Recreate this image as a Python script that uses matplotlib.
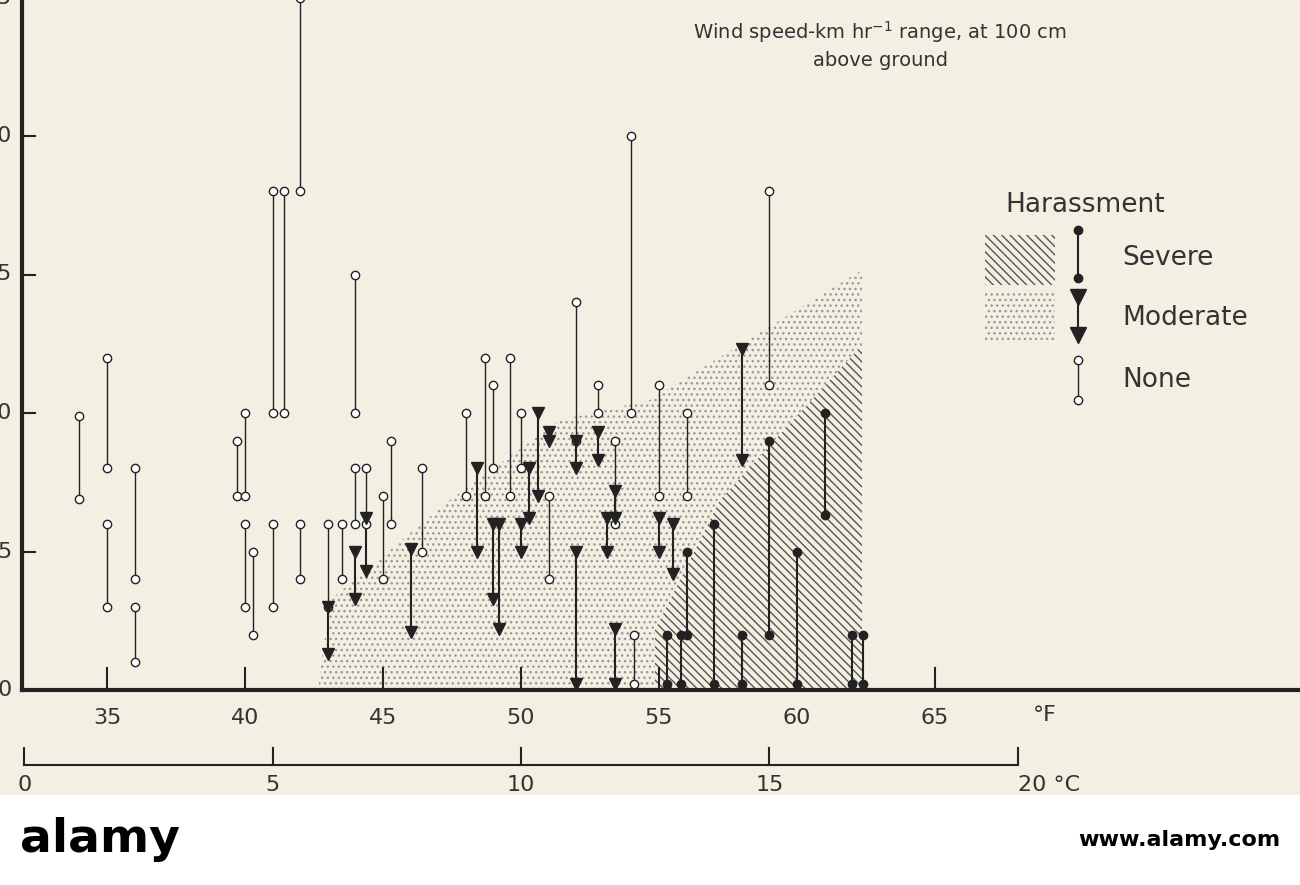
import matplotlib
matplotlib.use("Agg")
import matplotlib.pyplot as plt
from matplotlib.patches import Polygon, Rectangle

# ---- data (°F, wind low, wind high) ----
none_x  = [34.0,35.0,35.0,36.0,36.0,39.7,40.0,40.0,40.3,41.0,41.0,41.4,42.0,42.0,43.0,43.5,44.0,44.0,44.4,45.0,45.3,46.4,48.0,48.7,49.0,49.6,50.0,51.0,52.0,52.8,53.4,54.0,54.1,55.0,56.0,59.0]
none_lo = [6.9,8.0,3.0,4.0,1.0,7.0,7.0,3.0,2.0,10.0,3.0,10.0,18.0,4.0,3.0,4.0,10.0,6.0,6.0,4.0,6.0,5.0,7.0,7.0,8.0,7.0,8.0,4.0,9.0,10.0,6.0,10.0,0.2,7.0,7.0,11.0]
none_hi = [9.9,12.0,6.0,8.0,3.0,9.0,10.0,6.0,5.0,18.0,6.0,18.0,25.0,6.0,6.0,6.0,15.0,8.0,8.0,7.0,9.0,8.0,10.0,12.0,11.0,12.0,10.0,7.0,14.0,11.0,9.0,20.0,2.0,11.0,10.0,18.0]

mod_x  = [43.0,44.0,44.4,46.0,48.4,49.0,49.2,50.0,50.3,50.6,51.0,52.0,52.0,52.8,53.1,53.4,53.4,55.0,55.5,58.0]
mod_lo = [1.3,3.3,4.3,2.1,5.0,3.3,2.2,5.0,6.2,7.0,9.0,8.0,0.2,8.3,5.0,6.2,0.2,5.0,4.2,8.3]
mod_hi = [3.0,5.0,6.2,5.1,8.0,6.0,6.0,6.0,8.0,10.0,9.3,9.0,5.0,9.3,6.2,7.2,2.2,6.2,6.0,12.3]

sev_x  = [55.3,55.8,56.0,57.0,58.0,59.0,60.0,61.0,62.0,62.4]
sev_lo = [0.2,0.2,2.0,0.2,0.2,2.0,0.2,6.3,0.2,0.2]
sev_hi = [2.0,2.0,5.0,6.0,2.0,9.0,5.0,10.0,2.0,2.0]

f_ticks = [35,40,45,50,55,60,65]
c_ticks = [0,5,10,15,20]

BG = "#f3efe2"
fig = plt.figure(figsize=(13, 8.85), dpi=100)
fig.patch.set_facecolor(BG)
ax = fig.add_axes([0, 0, 1, 1])
px2F = lambda px: 35 + (px - 107) / 27.6
py2W = lambda py: (690 - py) / 27.7
ax.set_xlim(px2F(0), px2F(1300))
ax.set_ylim(py2W(885), py2W(0))
ax.axis("off")
ax.set_facecolor(BG)

dots = Polygon([(px2F(318), 0), (px2F(330), py2W(600)), (px2F(450), py2W(500)),
                (px2F(560), py2W(420)), (px2F(650), py2W(400)), (px2F(862), py2W(270)),
                (px2F(862), 0)], closed=True, facecolor="none", edgecolor="#999",
               hatch="...", lw=0, zorder=1)
ax.add_patch(dots)
hat = Polygon([(px2F(655), 0), (px2F(655), py2W(630)), (px2F(720), py2W(500)),
               (px2F(862), py2W(345)), (px2F(862), 0)], closed=True,
              facecolor=BG, edgecolor="#555", hatch="\\\\\\\\", lw=0, zorder=1.5)
ax.add_patch(hat)

K = "#222"
for x, lo, hi in zip(none_x, none_lo, none_hi):
    ax.plot([x, x], [lo, hi], color=K, lw=1, zorder=2)
    ax.plot([x, x], [lo, hi], 'o', ms=6, mfc="white", mec=K, mew=1, zorder=3)
for x, lo, hi in zip(mod_x, mod_lo, mod_hi):
    ax.plot([x, x], [lo, hi], color=K, lw=1.5, zorder=2)
    ax.plot([x, x], [lo, hi], 'v', ms=9, color=K, zorder=3)
for x, lo, hi in zip(sev_x, sev_lo, sev_hi):
    ax.plot([x, x], [lo, hi], color=K, lw=1.5, zorder=2)
    ax.plot([x, x], [lo, hi], 'o', ms=6, color=K, zorder=3)

ax.plot([px2F(22), px2F(22)], [0, py2W(0)], color=K, lw=3)
ax.plot([px2F(22), px2F(1300)], [0, 0], color=K, lw=3)
for v in [0, 5, 10, 15, 20, 25]:
    ax.plot([px2F(22), px2F(35)], [v, v], color=K, lw=1.5)
    ax.text(px2F(12), v, f"{v}", ha="right", va="center", fontsize=16, color="#333")
for f in f_ticks:
    ax.plot([f, f], [0, py2W(668)], color=K, lw=1.5)
    ax.text(f, py2W(718), str(f), ha="center", va="center", fontsize=16, color="#333")
ax.text(px2F(1045), py2W(715), "°F", ha="center", va="center", fontsize=16, color="#333")
cy = py2W(765)
ax.plot([32, 32 + 20 * 1.8], [cy, cy], color=K, lw=1.5)
for c in c_ticks:
    fx = 32 + c * 1.8
    ax.plot([fx, fx], [cy, py2W(748)], color=K, lw=1.5)
    ax.text(fx, py2W(785), str(c) + (" °C" if c == 20 else ""), ha="left" if c == 20 else "center",
            va="center", fontsize=16, color="#333")

ax.text(px2F(880), py2W(45), "Wind speed-km hr$^{-1}$ range, at 100 cm\nabove ground",
        ha="center", va="center", fontsize=14, color="#333", linespacing=1.4)

ax.text(px2F(1085), py2W(205), "Harassment", ha="center", va="center", fontsize=19, color="#333")
ax.add_patch(Rectangle((px2F(985), py2W(285)), px2F(1055) - px2F(985), py2W(235) - py2W(285),
                       facecolor="none", edgecolor="#555", hatch="\\\\\\\\", lw=0))
ax.add_patch(Rectangle((px2F(985), py2W(340)), px2F(1055) - px2F(985), py2W(290) - py2W(340),
                       facecolor="none", edgecolor="#999", hatch="...", lw=0))
lx = px2F(1078)
ax.plot([lx, lx], [py2W(230), py2W(278)], color=K, lw=1.5)
ax.plot([lx, lx], [py2W(230), py2W(278)], 'o', ms=6, color=K)
ax.plot([lx, lx], [py2W(297), py2W(335)], color=K, lw=1.5)
ax.plot([lx, lx], [py2W(297), py2W(335)], 'v', ms=12, color=K)
ax.plot([lx, lx], [py2W(360), py2W(400)], color=K, lw=1)
ax.plot([lx, lx], [py2W(360), py2W(400)], 'o', ms=6, mfc="white", mec=K)
for t, py in [("Severe", 258), ("Moderate", 318), ("None", 380)]:
    ax.text(px2F(1122), py2W(py), t, ha="left", va="center", fontsize=19, color="#333")

ax.add_patch(Rectangle((px2F(0), py2W(885)), px2F(1300) - px2F(0), py2W(795) - py2W(885),
                       facecolor="white", edgecolor="none", zorder=5))
ax.text(px2F(100), py2W(840), "alamy", ha="center", va="center", fontsize=34,
        fontweight="bold", color="black", zorder=6)
ax.text(px2F(1280), py2W(840), "www.alamy.com", ha="right", va="center", fontsize=16,
        fontweight="bold", color="black", zorder=6)

fig.savefig("out.png", dpi=100, facecolor=BG)
